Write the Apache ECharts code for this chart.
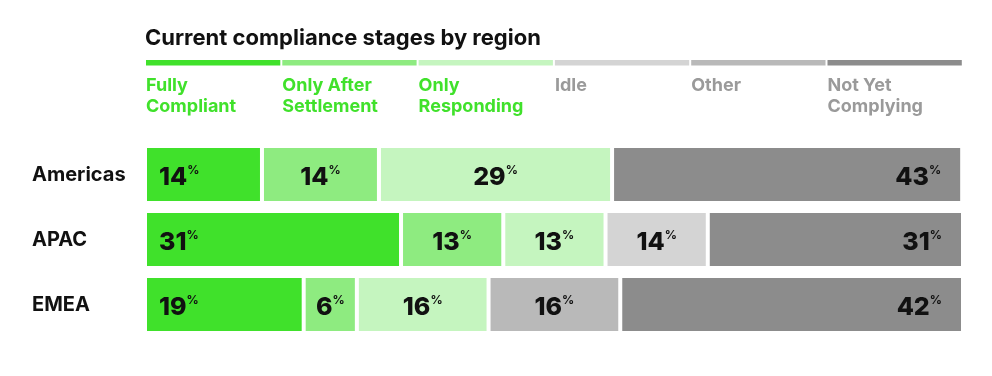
<!DOCTYPE html>
<html>
<head>
<meta charset="utf-8">
<script src="https://cdn.jsdelivr.net/npm/echarts@6/dist/echarts.min.js"></script>
<style>
  html, body { margin: 0; padding: 0; background: #fff; }
  #chart { width: 992px; height: 376px; }
</style>
</head>
<body>
<div id="chart"></div>
<script>
const regions = ['Americas', 'APAC', 'EMEA'];
const stages = ['Fully\nCompliant', 'Only After\nSettlement', 'Only\nResponding', 'Idle', 'Other', 'Not Yet\nComplying'];
const stageColors = ['#40e12b', '#8eeb80', '#c5f5bf', '#d4d4d4', '#b9b9b9', '#8c8c8c'];
const legendTextColors = ['#40e12b', '#40e12b', '#40e12b', '#9a9a9a', '#9a9a9a', '#9a9a9a'];

// drawn share of each region (percent of bar length), per stage
const fullyCompliant = [14.3, 31.3, 19.4];
const afterSettlement = [14.3, 12.5, 6.5];
const onlyResponding = [28.5, 12.5, 16.1];
const idle = [0, 12.5, 0];
const other = [0, 0, 16.1];
const notYet = [42.8, 31.2, 41.9];

// printed labels
const fullyCompliantLbl = [14, 31, 19];
const afterSettlementLbl = [14, 13, 6];
const onlyRespondingLbl = [29, 13, 16];
const idleLbl = [null, 14, null];
const otherLbl = [null, null, 16];
const notYetLbl = [43, 31, 42];

const values = [fullyCompliant, afterSettlement, onlyResponding, idle, other, notYet];
const labels = [fullyCompliantLbl, afterSettlementLbl, onlyRespondingLbl, idleLbl, otherLbl, notYetLbl];

const FONT = 'Inter, "Noto Sans", sans-serif';

const chart = echarts.init(document.getElementById('chart'));

const series = values.map(function (vals, i) {
  let pos = 'inside', dist = 5;
  if (i === 0) { pos = 'insideLeft'; dist = 14; }
  if (i === values.length - 1) { pos = 'insideRight'; dist = 21; }
  return {
    name: stages[i],
    type: 'bar',
    stack: 'total',
    barWidth: 57,
    data: vals.map(function (v) { return v === 0 ? '-' : v; }),
    itemStyle: { color: stageColors[i], borderColor: '#fff', borderWidth: 2 },
    label: {
      show: true,
      position: pos,
      distance: dist,
      offset: [0, 3],
      formatter: function (p) {
        const t = labels[i][p.dataIndex];
        return t == null ? '' : '{n|' + t + '}{p|%}';
      },
      rich: {
        n: { fontFamily: FONT, fontSize: 25, fontWeight: 800, color: '#111', lineHeight: 26 },
        p: { fontFamily: FONT, fontSize: 12, fontWeight: 700, color: '#111', verticalAlign: 'top', lineHeight: 12 }
      }
    },
    emphasis: { disabled: true },
    animation: false
  };
});

// legend bar above the chart
const legendGraphics = [];
const segW = 134.3, segGap = 2, segX0 = 146;
stages.forEach(function (s, i) {
  const x = segX0 + i * (segW + segGap);
  legendGraphics.push({
    type: 'rect',
    shape: { x: x, y: 60, width: segW, height: 5.5 },
    style: { fill: stageColors[i] }
  });
  legendGraphics.push({
    type: 'text',
    x: x,
    y: 75,
    style: {
      text: s,
      fill: legendTextColors[i],
      font: '700 18px ' + FONT,
      lineHeight: 21
    }
  });
});
legendGraphics.push({
  type: 'text',
  x: 145,
  y: 27,
  style: {
    text: 'Current compliance stages by region',
    fill: '#111',
    font: '700 22px ' + FONT
  }
});

const option = {
  animation: false,
  grid: { left: 145, right: 29, top: 142, bottom: 39 },
  xAxis: { type: 'value', min: 0, max: 100, show: false },
  yAxis: {
    type: 'category',
    data: regions,
    inverse: true,
    axisLine: { show: false },
    axisTick: { show: false },
    splitLine: { show: false },
    axisLabel: {
      align: 'left',
      margin: 113,
      color: '#111',
      fontFamily: FONT,
      fontSize: 20,
      fontWeight: 700
    }
  },
  graphic: legendGraphics,
  series: series
};

chart.setOption(option);
</script>
</body>
</html>
